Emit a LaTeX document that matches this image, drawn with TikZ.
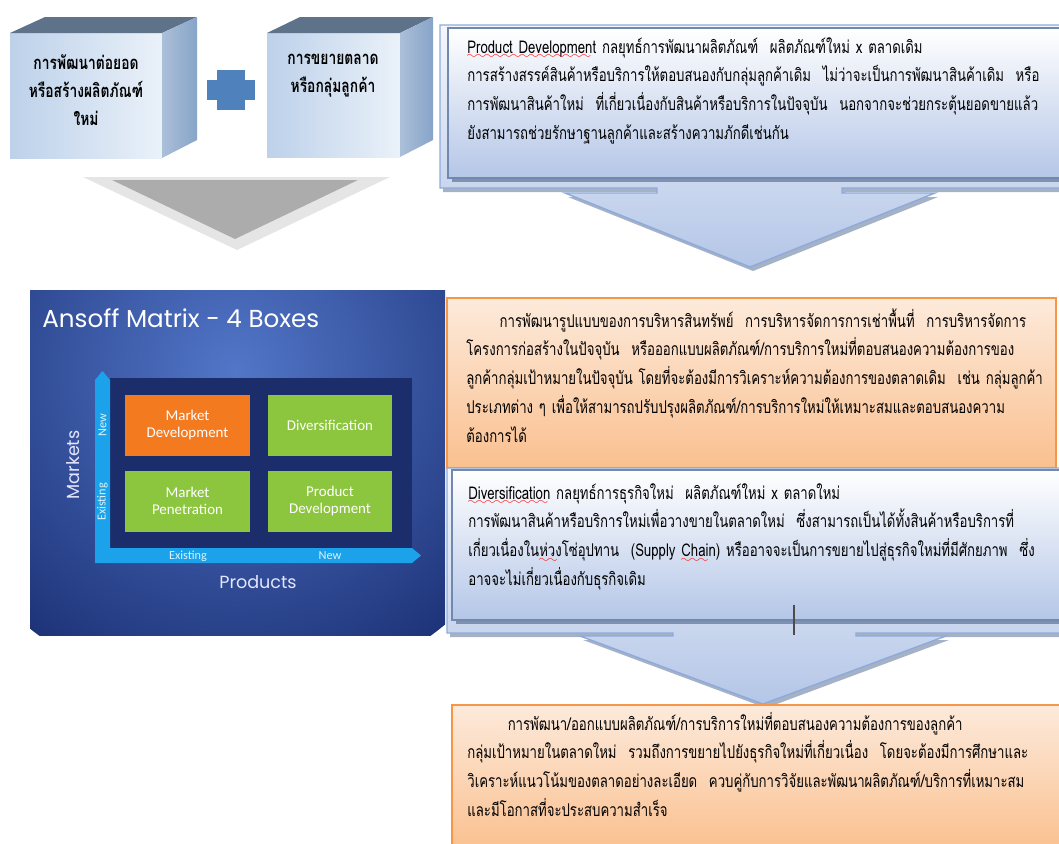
\documentclass[tikz,border=0pt]{standalone}
\usepackage{fontspec}
\setmainfont[Script=Thai, FakeStretch=0.75]{Loma}
\newfontfamily\slidefont{Poppins}
\newfontfamily\cellfont{Carlito}
\usetikzlibrary{positioning}

\definecolor{cubetop}{HTML}{5E7389}
\definecolor{cubeside}{HTML}{87A4C8}
\definecolor{cubelite}{HTML}{EAF1F9}
\definecolor{cubedark}{HTML}{BDD1EA}
\definecolor{plusblue}{HTML}{4F81BD}
\definecolor{callline}{HTML}{8EAADB}
\definecolor{calltop}{HTML}{F4F7FC}
\definecolor{callbot}{HTML}{B4C6E7}
\definecolor{callshadow}{HTML}{7F91AE}
\definecolor{orline}{HTML}{F79646}
\definecolor{ortop}{HTML}{FDEADB}
\definecolor{orbot}{HTML}{FAC08F}
\definecolor{slidemid}{HTML}{5276C8}
\definecolor{slideedge}{HTML}{1E3479}
\definecolor{slidepanel}{HTML}{1C2D6C}
\definecolor{axiscyan}{HTML}{1CA2EA}
\definecolor{cellorange}{HTML}{F47A20}
\definecolor{cellgreen}{HTML}{8CC63F}

\font\wavefont=lasy6
\newcommand\redwave[1]{\setbox0\hbox{#1}\rlap{\textcolor{red}{\lower3.2pt\hbox to \wd0{\leaders\hbox{\wavefont\char58}\hfil}}}\box0\relax}

\begin{document}
\begin{tikzpicture}[x=0.02cm,y=-0.02cm,
    para/.style={font=\fontsize{10}{16.4}\selectfont, text width=430pt, align=left,
      anchor=base west, inner sep=0pt},
    cubetext/.style={font=\fontsize{10.5}{15.9}\selectfont\bfseries, align=center},
    callout/.style={top color=calltop, bottom color=callbot, draw=callline, line width=0.8pt},
    panel/.style={top color=white, bottom color=callbot, draw=callline!80!black, line width=0.6pt},
    orbox/.style={top color=ortop, bottom color=orbot, draw=orline, line width=0.8pt},
    cell/.style={minimum width=2.5cm, minimum height=1.22cm, inner sep=0pt, text=white,
      font=\cellfont\fontsize{8.5}{9.5}\selectfont, align=center},
    axislabel/.style={text=white!85!cyan, font=\cellfont\fontsize{7}{7}\selectfont, inner sep=0pt},
    slidelabel/.style={text=white!90!blue, font=\slidefont\fontsize{10}{10}\selectfont, inner sep=0pt}]
  \clip (0,0) rectangle (1059,843);

  \path[left color=cubedark, right color=cubelite] (10,33) rectangle (162,158);
  \fill[cubetop] (10,33) -- (45,17) -- (197,17) -- (162,33) -- cycle;
  \path[left color=cubeside!70!white, right color=cubeside] (162,33) -- (197,17) -- (197,140) -- (162,158) -- cycle;
  \node[cubetext] (newprod) at (86,90) {การพัฒนาต่อยอด\\หรือสร้างผลิตภัณฑ์\\ใหม่};

  \path[left color=cubedark, right color=cubelite] (267,33) rectangle (400,157);
  \fill[cubetop] (267,33) -- (300,17) -- (433,17) -- (400,33) -- cycle;
  \path[left color=cubeside!70!white, right color=cubeside] (400,33) -- (433,17) -- (433,140) -- (400,157) -- cycle;
  \node[cubetext] (newmkt) at (333,76) {การขยายตลาด\\หรือกลุ่มลูกค้า};

  \fill[plusblue] (217,70) rectangle (245,110);
  \fill[plusblue] (207,80) rectangle (255,100);

  \fill[gray!20] (83,177) -- (390,177) -- (237,250) -- cycle;
  \fill[gray!65] (112,180) -- (358,180) -- (235,239) -- cycle;

  \fill[callshadow, opacity=.7, shift={(3,4)}] (440,25) -- (1059,25) -- (1059,188) -- (842,188) -- (842,193)
    -- (935,193) -- (750,267) -- (565,193) -- (657,193) -- (657,188) -- (440,188) -- cycle;
  \path[callout] (440,25) -- (1062,25) -- (1062,188) -- (842,188) -- (842,193)
    -- (935,193) -- (750,267) -- (565,193) -- (657,193) -- (657,188) -- (440,188) -- cycle;
  \fill[callshadow] (452,32) rectangle (1062,182);
  \path[panel] (448,28) rectangle (1062,178);
  \node[para] (pdtext) at (467,53) {\redwave{Product Development} กลยุทธ์การพัฒนาผลิตภัณฑ์~ ผลิตภัณฑ์ใหม่ x ตลาดเดิม\\
    การสร้างสรรค์สินค้าหรือบริการให้ตอบสนองกับกลุ่มลูกค้าเดิม~ ไม่ว่าจะเป็นการพัฒนาสินค้าเดิม~ หรือ\\
    การพัฒนาสินค้าใหม่~ ที่เกี่ยวเนื่องกับสินค้าหรือบริการในปัจจุบัน~ นอกจากจะช่วยกระตุ้นยอดขายแล้ว\\
    ยังสามารถช่วยรักษาฐานลูกค้าและสร้างความภักดีเช่นกัน};

  \path[orbox] (447,298) rectangle (1056,468);
  \node[para] (pdplan) at (466,327) {\hspace*{19pt}การพัฒนารูปแบบของการบริหารสินทรัพย์~ การบริหารจัดการการเช่าพื้นที่~ การบริหารจัดการ\\
    โครงการก่อสร้างในปัจจุบัน~ หรือออกแบบผลิตภัณฑ์/การบริการใหม่ที่ตอบสนองความต้องการของ\\
    ลูกค้ากลุ่มเป้าหมายในปัจจุบัน โดยที่จะต้องมีการวิเคราะห์ความต้องการของตลาดเดิม~ เช่น กลุ่มลูกค้า\\
    ประเภทต่าง ๆ เพื่อให้สามารถปรับปรุงผลิตภัณฑ์/การบริการใหม่ให้เหมาะสมและตอบสนองความ\\
    ต้องการได้};

  \begin{scope}
    \clip (30,290) rectangle (445,635);
    \shade[inner color=slidemid, outer color=slideedge] (235,370) circle (330);
  \end{scope}
  \node[anchor=west, inner sep=0pt, text=white, font=\slidefont\fontsize{14}{14}\selectfont] (title) at (42,318) {Ansoff Matrix - 4 Boxes};
  \fill[slidepanel] (110,378) rectangle (412,548);
  \fill[axiscyan] (95,563) -- (95,380) -- (102.5,371) -- (110,380) -- (110,548) -- (412,548) -- (421,555.5)
    -- (412,563) -- cycle;
  \node[cell, fill=cellorange] (mktdev) at (187.5,425) {Market\\Development};
  \node[cell, fill=cellgreen] (divers) at (330,425) {Diversification};
  \node[cell, fill=cellgreen] (mktpen) at (187.5,501) {Market\\Penetration};
  \node[cell, fill=cellgreen] (proddev) at (330,501) {Product\\Development};
  \node[axislabel, rotate=90] (mnew) at (102.5,425) {New};
  \node[axislabel, rotate=90] (mold) at (102.5,502) {Existing};
  \node[axislabel] (pold) at (188,556) {Existing};
  \node[axislabel] (pnew) at (330,556) {New};
  \node[slidelabel, rotate=90] (markets) at (73,465) {Markets};
  \node[slidelabel] (products) at (258,582) {Products};

  \fill[callshadow, opacity=.7, shift={(3,4)}] (447,468) -- (1059,468) -- (1059,633) -- (856,633) -- (856,636)
    -- (946,636) -- (763,704) -- (580,636) -- (673,636) -- (673,633) -- (447,633) -- cycle;
  \path[callout] (447,468) -- (1062,468) -- (1062,633) -- (856,633) -- (856,636)
    -- (946,636) -- (763,704) -- (580,636) -- (673,636) -- (673,633) -- (447,633) -- cycle;
  \fill[callshadow] (456,474) rectangle (1062,624);
  \path[panel] (452,470) rectangle (1062,620);
  \node[para] (divtext) at (468,499) {\redwave{Diversification} กลยุทธ์การธุรกิจใหม่~ ผลิตภัณฑ์ใหม่ x ตลาดใหม่\\
    การพัฒนาสินค้าหรือบริการใหม่เพื่อวางขายในตลาดใหม่~ ซึ่งสามารถเป็นได้ทั้งสินค้าหรือบริการที่\\
    เกี่ยวเนื่องใน\redwave{ห่วง}โซ่อุปทาน~ (Supply \redwave{Chain}) หรืออาจจะเป็นการขยายไปสู่ธุรกิจใหม่ที่มีศักยภาพ~ ซึ่ง\\
    อาจจะไม่เกี่ยวเนื่องกับธุรกิจเดิม};
  \draw[black!70, line width=0.6pt] (794,605) -- (794,635);

  \path[orbox] (452,705) rectangle (1062,850);
  \node[para] (divplan) at (467,730) {\hspace*{23pt}การพัฒนา/ออกแบบผลิตภัณฑ์/การบริการใหม่ที่ตอบสนองความต้องการของลูกค้า\\
    กลุ่มเป้าหมายในตลาดใหม่~ รวมถึงการขยายไปยังธุรกิจใหม่ที่เกี่ยวเนื่อง~ โดยจะต้องมีการศึกษาและ\\
    วิเคราะห์แนวโน้มของตลาดอย่างละเอียด~ ควบคู่กับการวิจัยและพัฒนาผลิตภัณฑ์/บริการที่เหมาะสม\\
    และมีโอกาสที่จะประสบความสำเร็จ};
\end{tikzpicture}
\end{document}
